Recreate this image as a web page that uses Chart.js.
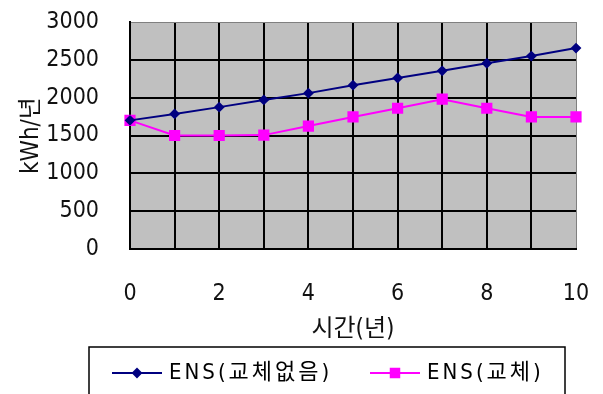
<!DOCTYPE html>
<html>
<head>
<meta charset="utf-8">
<script src="https://cdn.jsdelivr.net/npm/chart.js@4.4.0/dist/chart.umd.min.js"></script>
<style>
  html, body { margin: 0; padding: 0; background: #fff; }
  #chart { display: block; }
</style>
</head>
<body>
<canvas id="chart" width="603" height="394"></canvas>
<script>
// data
const years = [0, 1, 2, 3, 4, 5, 6, 7, 8, 9, 10];
const ensNoReplace = [1700, 1785, 1875, 1970, 2060, 2165, 2260, 2355, 2455, 2550, 2655];
const ensReplace = [1700, 1500, 1500, 1505, 1625, 1745, 1860, 1980, 1860, 1745, 1745];
const seriesNames = ['ENS(교체없음)', 'ENS(교체)'];
const yAxisTitle = 'kWh/년';
const xAxisTitle = '시간(년)';
const yMin = 0, yMax = 3000, yStep = 500;
const xMin = 0, xMax = 10;

const baseFont = "'DejaVu Sans Condensed', 'Noto Sans CJK KR', sans-serif";
const blue = '#000080';
const pink = '#ff00ff';

// grey plot area
const plotBackground = {
    id: 'plotBackground',
    beforeDraw(chart) {
        const { ctx, chartArea: a } = chart;
        ctx.save();
        ctx.fillStyle = '#c0c0c0';
        ctx.fillRect(a.left, a.top, a.right - a.left, a.bottom - a.top);
        ctx.restore();
    }
};

// boxed legend under the axis title, like the Excel one
const boxLegend = {
    id: 'boxLegend',
    afterDraw(chart) {
        const ctx = chart.ctx;
        const box = { left: 89, top: 347, right: 565, bottom: 420 };
        ctx.save();
        ctx.strokeStyle = '#000';
        ctx.lineWidth = 1.5;
        ctx.strokeRect(box.left, box.top, box.right - box.left, box.bottom - box.top);
        const y = 373;
        const items = [
            { x: 112, color: blue, style: 'rectRot', radius: 4, text: seriesNames[0] },
            { x: 370, color: pink, style: 'rect', radius: 6, text: seriesNames[1] }
        ];
        ctx.font = '22px ' + baseFont;
        ctx.letterSpacing = '3px';
        ctx.textBaseline = 'middle';
        ctx.textAlign = 'left';
        items.forEach(it => {
            ctx.strokeStyle = it.color;
            ctx.lineWidth = 2;
            ctx.beginPath();
            ctx.moveTo(it.x, y);
            ctx.lineTo(it.x + 50, y);
            ctx.stroke();
            ctx.fillStyle = it.color;
            Chart.helpers.drawPoint(ctx, { pointStyle: it.style, radius: it.radius, borderWidth: 1 }, it.x + 25, y);
            ctx.fillStyle = '#000';
            ctx.fillText(it.text, it.x + 57, y);
        });
        ctx.restore();
    }
};

new Chart(document.getElementById('chart'), {
    type: 'line',
    data: {
        datasets: [{
            label: seriesNames[0],
            data: years.map((x, i) => ({ x: x, y: ensNoReplace[i] })),
            borderColor: blue,
            backgroundColor: blue,
            borderWidth: 2,
            pointStyle: 'rectRot',
            pointRadius: 4,
            clip: false
        }, {
            label: seriesNames[1],
            data: years.map((x, i) => ({ x: x, y: ensReplace[i] })),
            borderColor: pink,
            backgroundColor: pink,
            borderWidth: 2,
            pointStyle: 'rect',
            pointRadius: 6.5,
            clip: false
        }]
    },
    options: {
        responsive: false,
        animation: false,
        layout: { padding: { left: 0, top: 22, right: 27, bottom: 50 } },
        plugins: {
            legend: { display: false },
            tooltip: { enabled: false }
        },
        scales: {
            x: {
                type: 'linear',
                min: xMin,
                max: xMax,
                afterFit(scale) {
                    scale.height = 95;
                    // tick padding should not eat into the plot width
                    scale.paddingLeft = 12;
                    scale.paddingRight = 12;
                },
                ticks: {
                    stepSize: 1,
                    autoSkip: false,
                    maxRotation: 0,
                    padding: 31,
                    color: '#111',
                    font: { family: baseFont, size: 23 },
                    callback: v => (v % 2 === 0 ? String(v) : '')
                },
                grid: {
                    drawTicks: false,
                    color: c => (c.tick && c.tick.value === xMax ? '#808080' : '#000'),
                    lineWidth: c => (c.tick && c.tick.value === xMax ? 1 : 2)
                },
                border: { color: '#000', width: 2 },
                title: {
                    display: true,
                    text: xAxisTitle,
                    color: '#111',
                    font: { family: baseFont, size: 24 },
                    padding: { top: 0, bottom: 0 }
                }
            },
            y: {
                min: yMin,
                max: yMax,
                afterFit(scale) {
                    scale.width = 130;
                    scale.paddingTop = 12;
                    scale.paddingBottom = 12;
                },
                ticks: {
                    stepSize: yStep,
                    padding: 31,
                    color: '#111',
                    font: { family: baseFont, size: 23 },
                    callback: v => String(v)
                },
                grid: {
                    drawTicks: false,
                    color: c => (c.tick && c.tick.value === yMax ? '#808080' : '#000'),
                    lineWidth: c => (c.tick && c.tick.value === yMax ? 1 : 2)
                },
                border: { color: '#000', width: 2 },
                title: {
                    display: true,
                    text: yAxisTitle,
                    color: '#111',
                    font: { family: baseFont, size: 24 },
                    padding: { top: 17, bottom: 0 }
                }
            }
        }
    },
    plugins: [plotBackground, boxLegend]
});
</script>
</body>
</html>
